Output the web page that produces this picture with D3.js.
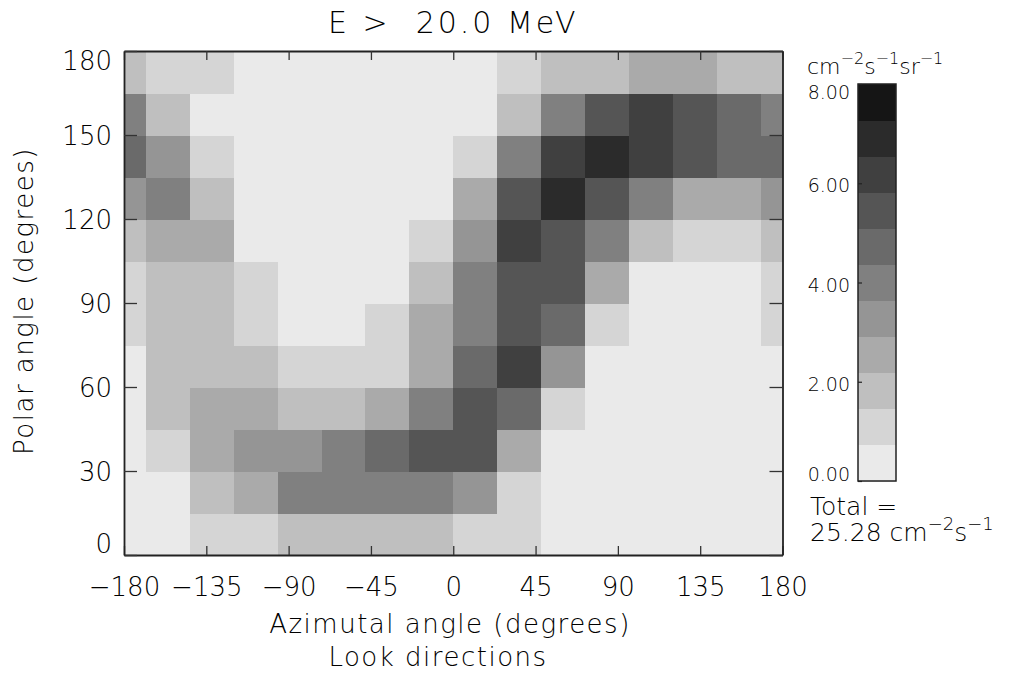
<!DOCTYPE html>
<html>
<head>
<meta charset="utf-8">
<script src="https://cdn.jsdelivr.net/npm/d3@7"></script>
<style>
    body { margin: 0; background: #fff; }
    text { font-family: "DejaVu Sans", sans-serif; font-weight: 200; fill: #000; }
</style>
</head>
<body>
<div id="chart"></div>
<script>
// look directions: azimuth bin centres (deg), polar bin centres (deg)
const azimuth = [-180, -156, -132, -108, -84, -60, -36, -12, 12, 36, 60, 84, 108, 132, 156, 180];
const polar = [7.5, 22.5, 37.5, 52.5, 67.5, 82.5, 97.5, 112.5, 127.5, 142.5, 157.5, 172.5];

// flux, cm-2 s-1 sr-1, one row per polar bin (bottom to top)
const flux = [
    [0.3, 0.5, 1.2, 1.0, 1.9, 1.7, 2.0, 1.8, 1.1, 0.9, 0.4, 0.2, 0.3, 0.2, 0.3, 0.3],
    [0.2, 0.4, 1.9, 2.6, 4.1, 4.0, 3.9, 4.2, 3.2, 1.2, 0.5, 0.3, 0.2, 0.1, 0.2, 0.2],
    [0.4, 1.3, 2.5, 3.3, 3.2, 4.0, 4.8, 5.4, 5.6, 2.7, 0.6, 0.3, 0.2, 0.2, 0.1, 0.3],
    [0.5, 1.9, 2.4, 2.6, 1.8, 2.0, 2.5, 4.1, 5.5, 4.6, 1.1, 0.4, 0.2, 0.2, 0.3, 0.4],
    [0.6, 1.7, 2.0, 1.8, 1.2, 1.1, 1.3, 2.6, 4.7, 6.3, 3.4, 0.5, 0.3, 0.3, 0.2, 0.5],
    [1.2, 1.8, 1.9, 1.0, 0.6, 0.5, 1.1, 2.5, 4.1, 5.4, 4.8, 1.3, 0.4, 0.4, 0.5, 1.1],
    [1.1, 2.0, 1.8, 1.3, 0.5, 0.4, 0.6, 1.9, 4.0, 5.5, 5.3, 2.6, 0.6, 0.4, 0.5, 1.0],
    [2.0, 2.5, 2.7, 0.6, 0.4, 0.3, 0.5, 1.2, 3.3, 6.1, 5.6, 4.0, 1.9, 1.3, 1.1, 1.8],
    [3.3, 4.1, 1.9, 0.5, 0.3, 0.2, 0.3, 0.4, 2.6, 5.5, 6.9, 5.4, 4.0, 2.7, 2.5, 3.2],
    [4.8, 3.4, 1.1, 0.4, 0.2, 0.2, 0.3, 0.5, 1.2, 4.2, 6.2, 7.0, 6.3, 5.6, 4.7, 4.8],
    [4.0, 2.0, 0.6, 0.3, 0.2, 0.1, 0.2, 0.3, 0.6, 1.9, 4.1, 5.5, 6.2, 5.4, 4.8, 4.1],
    [1.8, 1.2, 1.0, 0.4, 0.3, 0.2, 0.2, 0.3, 0.5, 1.2, 1.9, 2.0, 2.6, 2.5, 1.9, 1.8]
];

const xTicks = [-180, -135, -90, -45, 0, 45, 90, 135, 180];
const yTicks = [0, 30, 60, 90, 120, 150, 180];
const barTicks = [0, 2, 4, 6, 8];
const fluxMax = 8;
const nLevels = 11;
const totalFlux = "25.28";
const title = "E >  20.0 MeV";

const width = 1010, height = 673;
const plot = { left: 124, right: 782.5, top: 51, bottom: 555 };
const azStep = 24, polStep = 15;

const svg = d3.select("#chart").append("svg")
    .attr("width", width)
    .attr("height", height);

// grey levels, dark = high flux
const greys = d3.range(nLevels).map(k => {
    const g = Math.round(255 * (nLevels - k) / (nLevels + 1));
    return d3.rgb(g, g, g).formatHex();
});
const color = d3.scaleQuantize().domain([0, fluxMax]).range(greys);

const x = d3.scaleLinear().domain([-180, 180]).range([plot.left, plot.right]);
const y = d3.scaleLinear().domain([0, 180]).range([plot.bottom, plot.top]);

// =========================
// CELLS
// =========================
const cells = [];
flux.forEach((row, i) => row.forEach((v, j) => {
    cells.push({ az: azimuth[j], pol: polar[i], v });
}));

svg.append("g").selectAll("rect")
    .data(cells)
    .join("rect")
    .attr("x", d => x(Math.max(-180, d.az - azStep / 2)))
    .attr("width", d => x(Math.min(180, d.az + azStep / 2)) - x(Math.max(-180, d.az - azStep / 2)) + 0.5)
    .attr("y", d => y(d.pol + polStep / 2))
    .attr("height", d => y(d.pol - polStep / 2) - y(d.pol + polStep / 2) + 0.5)
    .attr("fill", d => color(d.v))
    .attr("shape-rendering", "crispEdges");

// =========================
// AXES
// =========================
const fmt = d => d < 0 ? "\u2212" + Math.abs(d) : String(d);

const styleAxis = g => {
    g.selectAll(".domain").attr("stroke", "#222").attr("stroke-width", 1.8);
    g.selectAll(".tick line").attr("stroke", "#333").attr("stroke-width", 1.3);
    g.selectAll("text").attr("fill", "#000").style("font-size", "26px").attr("font-family", null);
};

svg.append("g")
    .attr("transform", `translate(0, ${plot.bottom})`)
    .call(d3.axisBottom(x).tickValues(xTicks).tickFormat(fmt).tickSize(-9).tickSizeOuter(0).tickPadding(23))
    .call(styleAxis);

svg.append("g")
    .attr("transform", `translate(0, ${plot.top})`)
    .call(d3.axisTop(x).tickValues(xTicks).tickFormat("").tickSize(-9).tickSizeOuter(0))
    .call(styleAxis);

const yAxis = svg.append("g")
    .attr("transform", `translate(${plot.left}, 0)`)
    .call(d3.axisLeft(y).tickValues(yTicks).tickSize(-13).tickSizeOuter(0).tickPadding(12))
    .call(styleAxis);
yAxis.selectAll("text").attr("dy", d => d === 180 ? "0.73em" : d === 0 ? "-0.08em" : "0.36em");

svg.append("g")
    .attr("transform", `translate(${plot.right}, 0)`)
    .call(d3.axisRight(y).tickValues(yTicks).tickFormat("").tickSize(-13).tickSizeOuter(0))
    .call(styleAxis);

// =========================
// TITLES
// =========================
svg.append("text")
    .attr("x", (plot.left + plot.right) / 2)
    .attr("y", 33)
    .attr("text-anchor", "middle")
    .style("font-size", "30px")
    .style("letter-spacing", "3px")
    .style("white-space", "pre")
    .text(title);

svg.append("text")
    .attr("x", 450)
    .attr("y", 633)
    .attr("text-anchor", "middle")
    .style("font-size", "26px")
    .style("letter-spacing", "1.5px")
    .text("Azimutal angle (degrees)");

svg.append("text")
    .attr("x", 438)
    .attr("y", 666)
    .attr("text-anchor", "middle")
    .style("font-size", "26px")
    .style("letter-spacing", "1.5px")
    .text("Look directions");

svg.append("text")
    .attr("transform", "translate(33, 301) rotate(-90)")
    .attr("text-anchor", "middle")
    .style("font-size", "26px")
    .style("letter-spacing", "1.5px")
    .text("Polar angle (degrees)");

// =========================
// COLOUR BAR
// =========================
const bar = { left: 858, width: 38, top: 84, bottom: 481 };
const yBar = d3.scaleLinear().domain([0, fluxMax]).range([bar.bottom, bar.top]);
const bands = d3.range(nLevels).map(k => ({ lo: k * fluxMax / nLevels, hi: (k + 1) * fluxMax / nLevels }));

svg.append("g").selectAll("rect")
    .data(bands)
    .join("rect")
    .attr("x", bar.left)
    .attr("width", bar.width)
    .attr("y", d => yBar(d.hi))
    .attr("height", d => yBar(d.lo) - yBar(d.hi) + 0.5)
    .attr("fill", d => color((d.lo + d.hi) / 2))
    .attr("shape-rendering", "crispEdges");

svg.append("rect")
    .attr("x", bar.left)
    .attr("y", bar.top)
    .attr("width", bar.width)
    .attr("height", bar.bottom - bar.top)
    .attr("fill", "none")
    .attr("stroke", "#222")
    .attr("stroke-width", 1.5);

const barAxis = svg.append("g")
    .attr("transform", `translate(${bar.left}, 0)`)
    .call(d3.axisLeft(yBar).tickValues(barTicks).tickFormat(d3.format(".2f")).tickSize(-4).tickSizeOuter(0).tickPadding(8));
barAxis.select(".domain").remove();
barAxis.selectAll(".tick line").attr("stroke", "#222").attr("stroke-width", 1.2);
barAxis.selectAll("text")
    .attr("font-family", null)
    .style("font-size", "19px")
    .attr("dy", d => d === fluxMax ? "0.76em" : d === 0 ? "-0.05em" : "0.45em");

const unit = svg.append("text")
    .attr("x", 807)
    .attr("y", 74)
    .style("font-size", "22px");
unit.append("tspan").text("cm");
unit.append("tspan").attr("dy", -10).style("font-size", "16px").text("\u22122");
unit.append("tspan").attr("dy", 10).text("s");
unit.append("tspan").attr("dy", -10).style("font-size", "16px").text("\u22121");
unit.append("tspan").attr("dy", 10).text("sr");
unit.append("tspan").attr("dy", -10).style("font-size", "16px").text("\u22121");

svg.append("text")
    .attr("x", 810)
    .attr("y", 515)
    .style("font-size", "25px")
    .style("white-space", "pre")
    .text("Total =");

const tot = svg.append("text")
    .attr("x", 810)
    .attr("y", 541)
    .style("font-size", "25px");
tot.append("tspan").text(totalFlux + " cm");
tot.append("tspan").attr("dy", -11).style("font-size", "18px").text("\u22122");
tot.append("tspan").attr("dy", 11).text("s");
tot.append("tspan").attr("dy", -11).style("font-size", "18px").text("\u22121");
</script>
</body>
</html>
